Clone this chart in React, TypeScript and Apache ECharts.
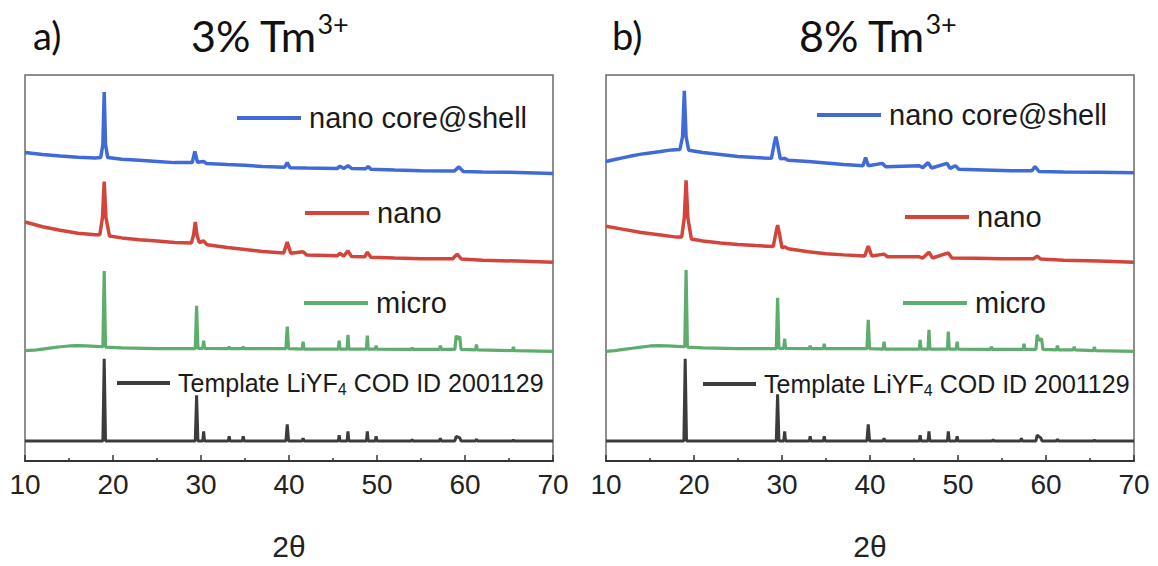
import React, { useEffect, useRef } from "react";
import * as echarts from "echarts";

// ---------- data (2θ, intensity in arbitrary units, traces offset) ----------
const X_TICKS = [10, 20, 30, 40, 50, 60, 70];
const NAMES = ["nano core@shell", "nano", "micro", "Template"];
const PANEL_TITLES = ["3% Tm", "8% Tm"];
const PANEL_LETTERS = ["a)", "b)"];

const A_CORESHELL: number[][] = [
  [10, 79.9], [12, 79.4], [14, 79.0], [16, 78.7], [18, 78.5], [18.6, 78.6], [18.85, 82], [19.0, 95.6], [19.15, 82], [19.4, 78.6],
  [21, 78.2], [23, 77.9], [25, 77.6], [27, 77.3], [29.0, 77.3], [29.3, 80.2], [29.6, 77.4], [30.3, 77.6], [30.6, 77.1],
  [33, 76.8], [35, 76.6], [37, 76.3], [39.5, 76.1], [39.8, 77.3], [40.1, 76.0], [42, 75.9], [45.5, 75.8], [45.8, 76.4],
  [46.2, 75.8], [46.7, 76.5], [47.1, 75.8], [48.7, 75.7], [49.0, 76.3], [49.3, 75.6], [52, 75.4], [55, 75.2], [58.8, 75.1],
  [59.3, 76.2], [59.8, 75.0], [62, 74.9], [65, 74.8], [70, 74.5],
];
const A_NANO: number[][] = [
  [10, 61.9], [12, 60.7], [14, 59.8], [16, 59.0], [18, 58.6], [18.5, 58.6], [18.8, 63], [19.0, 72.4], [19.2, 63], [19.6, 58.3],
  [21, 57.8], [23, 57.3], [25, 57.0], [27, 56.6], [28.9, 56.5], [29.15, 58.5], [29.35, 61.9], [29.55, 58.5], [29.8, 56.6], [30.3, 57.0], [30.7, 56.0],
  [33, 55.3], [35, 54.8], [37, 54.3], [39.4, 53.9], [39.8, 56.7], [40.2, 53.8], [41.6, 54.2], [42, 53.4], [45.5, 53.2],
  [45.8, 53.8], [46.2, 53.1], [46.7, 54.4], [47.1, 53.0], [48.6, 52.9], [48.9, 54.1], [49.3, 52.8], [52, 52.6], [55, 52.4],
  [58.6, 52.4], [59.1, 53.6], [59.6, 52.3], [62, 52.0], [66, 51.8], [70, 51.5],
];
const A_MICRO: number[][] = [
  [10, 28.6], [11, 28.7], [12, 29.0], [13, 29.3], [14, 29.6], [15, 29.8], [16, 29.9], [17, 29.8], [18, 29.7], [18.85, 29.6], [19.0, 49.2], [19.15, 29.5], [21, 29.3], [25, 29.1],
  [29.35, 29.1], [29.5, 40.2], [29.65, 29.2], [30.2, 29.2], [30.3, 31.2], [30.4, 29.2], [33.1, 29.1], [33.2, 29.6], [33.3, 29.1],
  [34.7, 29.1], [34.8, 29.6], [34.9, 29.1], [39.65, 29.1], [39.8, 34.8], [39.95, 29.1], [41.5, 29.0], [41.6, 30.9], [41.7, 29.0],
  [45.6, 29.0], [45.7, 31.2], [45.8, 29.0], [46.6, 29.0], [46.7, 32.7], [46.8, 29.0], [48.8, 29.0], [48.9, 32.5], [49.0, 29.0],
  [49.8, 29.0], [49.9, 29.9], [50.0, 29.0], [53.9, 28.9], [54.0, 29.3], [54.1, 28.9], [57.1, 28.9], [57.2, 29.9], [57.3, 28.9],
  [58.85, 28.9], [59.0, 32.5], [59.2, 31.5], [59.4, 32.3], [59.55, 28.9], [61.2, 28.8], [61.3, 30.2], [61.4, 28.8],
  [65.4, 28.6], [65.5, 29.6], [65.6, 28.6], [70, 28.4],
];
const A_TEMPLATE: number[][] = [
  [10, 5.2], [18.85, 5.2], [19.0, 26.5], [19.15, 5.2], [29.35, 5.2], [29.5, 17.0], [29.65, 5.2], [30.2, 5.2], [30.3, 7.7], [30.4, 5.2],
  [33.1, 5.2], [33.2, 6.4], [33.3, 5.2], [34.7, 5.2], [34.8, 6.4], [34.9, 5.2], [39.65, 5.2], [39.8, 9.5], [39.95, 5.2],
  [41.5, 5.2], [41.6, 5.9], [41.7, 5.2], [45.6, 5.2], [45.7, 6.7], [45.8, 5.2], [46.6, 5.2], [46.7, 7.7], [46.8, 5.2],
  [48.8, 5.2], [48.9, 7.7], [49.0, 5.2], [49.8, 5.2], [49.9, 6.4], [50.0, 5.2], [53.9, 5.2], [54.0, 5.5], [54.1, 5.2],
  [57.1, 5.2], [57.2, 5.9], [57.3, 5.2], [58.85, 5.2], [59.0, 6.4], [59.4, 6.0], [59.55, 5.2], [61.2, 5.2], [61.3, 5.7], [61.4, 5.2],
  [65.4, 5.2], [65.5, 5.4], [65.6, 5.2], [70, 5.2],
];

const B_CORESHELL: number[][] = [
  [10, 77.6], [11, 78.1], [12, 78.6], [13, 79.1], [14, 79.5], [15, 79.8], [16, 80.1], [17.5, 80.6], [18.4, 80.7], [18.7, 84], [18.9, 95.9], [19.1, 84], [19.4, 80.5],
  [21, 79.9], [23, 79.4], [25, 78.9], [27, 78.6], [28.8, 78.4], [29.1, 82], [29.3, 84.0], [29.5, 82], [29.8, 78.3], [30.3, 78.4],
  [30.7, 77.9], [33, 77.6], [35, 77.2], [37, 76.8], [39.2, 76.5], [39.5, 78.6], [39.8, 76.5], [41.4, 77.1], [41.8, 76.2],
  [45.6, 76.5], [46.0, 76.0], [46.6, 77.3], [47.0, 75.9], [48.75, 77.1], [49.1, 75.8], [49.7, 76.5], [50.1, 75.6], [53, 75.4],
  [56, 75.2], [58.4, 75.2], [58.75, 76.3], [59.2, 75.0], [62, 74.9], [66, 74.8], [70, 74.7],
];
const B_NANO: number[][] = [
  [10, 60.8], [12, 60.0], [14, 59.2], [16, 58.6], [18, 58.0], [18.6, 58.0], [18.9, 63], [19.1, 72.7], [19.3, 63], [19.7, 57.5],
  [21, 57.0], [23, 56.5], [25, 56.1], [27, 55.8], [29.0, 55.6], [29.3, 59], [29.5, 61.1], [29.7, 59], [30.0, 55.2], [30.3, 55.5],
  [30.7, 55.0], [33, 54.2], [35, 53.7], [37, 53.4], [39.4, 53.1], [39.8, 55.7], [40.2, 53.1], [41.6, 53.6], [42, 52.9],
  [45.6, 52.9], [46.0, 52.6], [46.7, 54.1], [47.1, 52.6], [48.9, 53.9], [49.3, 52.6], [52, 52.5], [55, 52.4], [58.6, 52.4],
  [59.0, 53.1], [59.4, 52.3], [62, 52.0], [66, 51.8], [70, 51.5],
];
const B_MICRO: number[][] = [
  [10, 28.4], [11, 28.6], [12, 28.9], [13, 29.2], [14, 29.5], [15, 29.8], [16, 29.9], [17, 29.8], [18, 29.7], [18.95, 29.6], [19.1, 49.5], [19.25, 29.5], [21, 29.3], [25, 29.1],
  [29.35, 29.1], [29.5, 42.3], [29.65, 29.2], [30.2, 29.2], [30.3, 31.7], [30.4, 29.2], [33.1, 29.1], [33.2, 29.9], [33.3, 29.1],
  [34.7, 29.1], [34.8, 30.4], [34.9, 29.1], [39.65, 29.1], [39.8, 36.6], [39.95, 29.1], [41.5, 29.0], [41.6, 30.9], [41.7, 29.0],
  [45.6, 29.0], [45.7, 31.4], [45.8, 29.0], [46.6, 29.0], [46.7, 34.0], [46.8, 29.0], [48.8, 29.0], [48.9, 33.5], [49.0, 29.0],
  [49.8, 29.0], [49.9, 30.9], [50.0, 29.0], [53.7, 28.9], [53.8, 29.6], [53.9, 28.9], [57.4, 28.9], [57.5, 30.4], [57.6, 28.9],
  [58.85, 28.9], [59.0, 32.7], [59.2, 31.2], [59.5, 31.7], [59.65, 28.9], [61.2, 28.8], [61.3, 29.9], [61.4, 28.8],
  [63.1, 28.8], [63.2, 29.6], [63.3, 28.8], [65.4, 28.6], [65.5, 29.6], [65.6, 28.6], [70, 28.4],
];
const B_TEMPLATE: number[][] = [
  [10, 5.2], [18.85, 5.2], [19.0, 26.5], [19.15, 5.2], [29.35, 5.2], [29.5, 17.3], [29.65, 5.2], [30.2, 5.2], [30.3, 7.7], [30.4, 5.2],
  [33.1, 5.2], [33.2, 6.4], [33.3, 5.2], [34.7, 5.2], [34.8, 6.4], [34.9, 5.2], [39.65, 5.2], [39.8, 9.5], [39.95, 5.2],
  [41.5, 5.2], [41.6, 5.9], [41.7, 5.2], [45.6, 5.2], [45.7, 6.7], [45.8, 5.2], [46.6, 5.2], [46.7, 7.7], [46.8, 5.2],
  [48.8, 5.2], [48.9, 7.7], [49.0, 5.2], [49.8, 5.2], [49.9, 6.4], [50.0, 5.2], [53.9, 5.2], [54.0, 5.5], [54.1, 5.2],
  [57.1, 5.2], [57.2, 5.9], [57.3, 5.2], [58.85, 5.2], [59.0, 6.7], [59.4, 6.0], [59.55, 5.2], [61.2, 5.2], [61.3, 5.7], [61.4, 5.2],
  [65.4, 5.2], [65.5, 5.4], [65.6, 5.2], [70, 5.2],
];

const PANELS = [
  [A_CORESHELL, A_NANO, A_MICRO, A_TEMPLATE],
  [B_CORESHELL, B_NANO, B_MICRO, B_TEMPLATE],
];

// ---------- styles ----------
const COLORS = ["#3F6AD8", "#D3443A", "#5EAD6E", "#3C3C3C"];
const WIDTHS = [3.5, 3.5, 3.2, 3];
const FONT = "'Liberation Sans', Arial, sans-serif";
const TITLE_FONT = "Lato, 'Open Sans', sans-serif";

const GRID_LEFT = [25, 606];
const GRID_TOP = 75;
const GRID_W = 528;
const GRID_H = 388;

// legend placement per panel: [left, top] for each of the 4 legend items
const LEGEND_POS = [
  [[237, 102], [305, 197], [304, 287], [117, 367]],
  [[817, 99], [905, 201], [903, 287], [703, 368]],
];

export default function App() {
  const ref = useRef<HTMLDivElement>(null);

  useEffect(() => {
    document.body.style.margin = "0";
    const chart = echarts.init(ref.current!, null, { renderer: "svg" });

    const grids: any[] = [];
    const xAxes: any[] = [];
    const yAxes: any[] = [];
    const series: any[] = [];
    const legends: any[] = [];
    const titles: any[] = [];

    PANELS.forEach((traces, p) => {
      grids.push({
        left: GRID_LEFT[p],
        top: GRID_TOP,
        width: GRID_W,
        height: GRID_H,
        show: true,
        borderColor: "#6a6a6a",
        borderWidth: 1.5,
        backgroundColor: "transparent",
      });
      xAxes.push({
        type: "value",
        gridIndex: p,
        min: 10,
        max: 70,
        interval: 10,
        name: "2θ",
        nameLocation: "middle",
        nameGap: 70,
        nameTextStyle: { fontFamily: FONT, fontSize: 30, color: "#222" },
        axisLine: { show: true, onZero: false, lineStyle: { color: "#333", width: 2 } },
        axisTick: { show: true, inside: true, length: 6, lineStyle: { color: "#333", width: 1.5 } },
        minorTick: { show: true, splitNumber: 2, length: 3, lineStyle: { color: "#333", width: 1.5 } },
        splitLine: { show: false },
        minorSplitLine: { show: false },
        axisLabel: {
          fontFamily: FONT,
          fontSize: 28,
          color: "#222",
          margin: 9,
          formatter: (v: number) => (X_TICKS.includes(v) ? String(v) : ""),
        },
      });
      yAxes.push({
        type: "value",
        gridIndex: p,
        min: 0,
        max: 100,
        show: false,
        splitLine: { show: false },
      });
      traces.forEach((data, i) => {
        series.push({
          type: "line",
          name: NAMES[i],
          xAxisIndex: p,
          yAxisIndex: p,
          data,
          symbol: "none",
          showSymbol: false,
          smooth: false,
          color: COLORS[i],
          lineStyle: { color: COLORS[i], width: WIDTHS[i] },
          z: 3,
        });
        const [lx, ly] = LEGEND_POS[p][i];
        const isTemplate = i === 3;
        legends.push({
          data: [NAMES[i]],
          left: lx,
          top: ly,
          padding: 0,
          icon: "rect",
          itemWidth: isTemplate ? 53 : 64,
          itemHeight: 4,
          selectedMode: false,
          formatter: isTemplate ? "Template LiYF{sub|4} COD ID 2001129" : undefined,
          textStyle: {
            fontFamily: FONT,
            fontSize: isTemplate ? 25 : 29,
            lineHeight: isTemplate ? 28 : 32,
            color: "#1a1a1a",
            padding: [0, 0, 0, 3],
            rich: {
              sub: {
                fontFamily: FONT,
                fontSize: 16,
                color: "#1a1a1a",
                verticalAlign: "bottom",
                padding: [14, 0, 0, 0],
                lineHeight: 28,
              },
            },
          },
        });
      });
      titles.push({
        text: PANEL_LETTERS[p],
        left: p === 0 ? 33 : 612,
        top: 16,
        padding: 0,
        textStyle: { fontFamily: TITLE_FONT, fontSize: 38, fontWeight: "normal", color: "#111" },
      });
      titles.push({
        text: PANEL_TITLES[p] + "{sup|3+}",
        left: p === 0 ? 191 : 799,
        top: 10,
        padding: 0,
        textStyle: {
          fontFamily: TITLE_FONT,
          fontSize: 43,
          fontWeight: "normal",
          color: "#111",
          rich: {
            sup: {
              fontFamily: TITLE_FONT,
              fontSize: 27,
              color: "#111",
              verticalAlign: "top",
              padding: [0, 0, 24, 0],
            },
          },
        },
      });
    });

    chart.setOption({
      animation: false,
      backgroundColor: "#ffffff",
      title: titles,
      grid: grids,
      xAxis: xAxes,
      yAxis: yAxes,
      legend: legends,
      series,
    });

    return () => chart.dispose();
  }, []);

  return (
    <div
      ref={ref}
      style={{ position: "absolute", left: 0, top: 0, width: 1158, height: 566 }}
    />
  );
}
